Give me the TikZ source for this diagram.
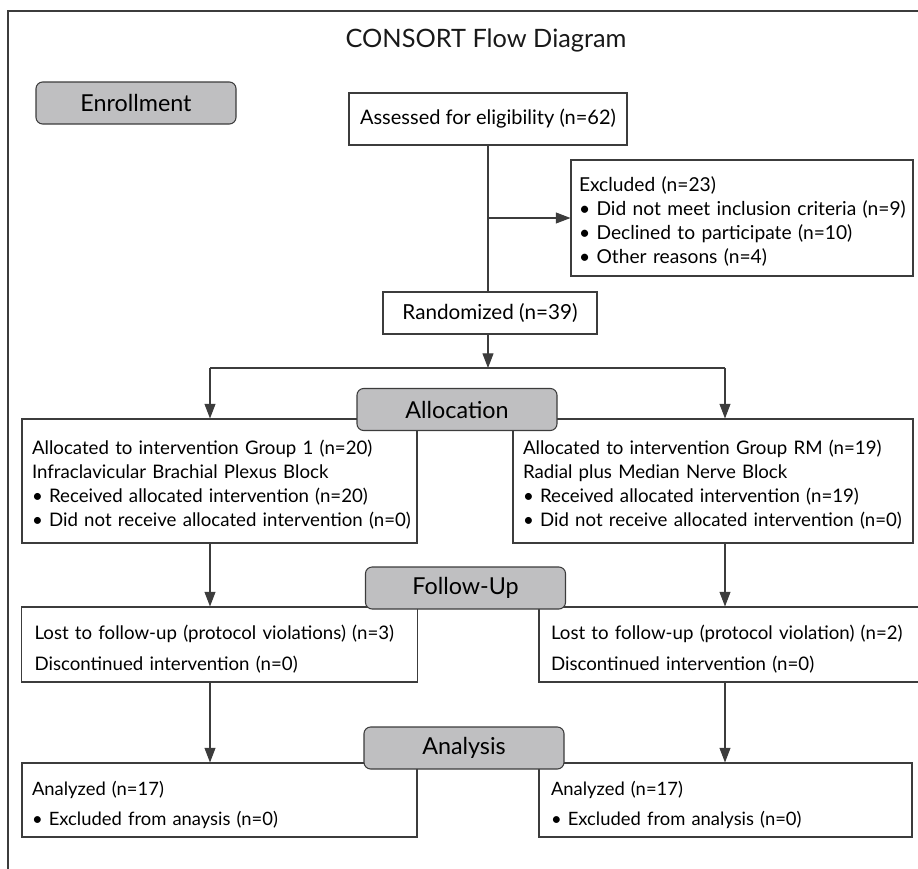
\documentclass[tikz,border=0pt]{standalone}
\usepackage{fontspec}
\setmainfont{Lato}
\usepackage{xcolor}
\definecolor{consortGray}{HTML}{BFBFC1}
\definecolor{consortLine}{HTML}{3C3C3C}
\usetikzlibrary{
  arrows.meta,
  positioning,
  calc
}
\tikzset{
  framebox/.style={draw=consortLine,line width=0.8pt},
  titletext/.style={font=\fontsize{19}{22}\selectfont,text=black!90},
  stagebox/.style={
    rectangle,rounded corners=5pt,
    draw=consortLine,fill=consortGray,line width=0.8pt,
    minimum width=150pt,minimum height=31.5pt,
    text centered,font=\fontsize{17.5}{20}\selectfont
  },
  flowbox/.style={
    rectangle,draw=consortLine,fill=white,line width=0.8pt,
    text centered,font=\fontsize{15}{18}\selectfont
  },
  listbox/.style={
    rectangle,draw=consortLine,fill=white,line width=0.8pt,
    text width=#1,inner xsep=7.5pt,
    align=left,font=\fontsize{14}{18.2}\selectfont,
    execute at begin node={\vspace*{-7pt}}
  },
  flowline/.style={-,draw=consortLine,line width=0.8pt},
  flowarr/.style={-{Triangle[width=8.25pt,length=11pt]},draw=consortLine,line width=0.8pt},
}

\begin{document}
\begin{tikzpicture}[x=0.75pt,y=-0.75pt]

\path[use as bounding box] (0,0) rectangle (918,868);
\clip (0,0) rectangle (918,868);

%% ── Frame and title ──────────────────────────────────────
\draw[framebox] (8,11) rectangle (940,890);
\node[titletext] (title) at (486,40) {CONSORT Flow Diagram};

%% ── Enrollment ───────────────────────────────────────────
\node[flowbox,minimum width=208.5pt,minimum height=39pt] (assess) at (488,119)
  {Assessed for eligibility (n=62)};
\node[listbox=244.5pt,minimum height=87pt,inner xsep=6pt,
      font=\fontsize{14.4}{18}\selectfont] (excl) at (742,218)
  {\begin{tabular}{@{}l@{}}
   Excluded (n=23)\\
   • Did not meet inclusion criteria (n=9)\\
   • Declined to participate (n=10)\\
   • Other reasons (n=4)
   \end{tabular}};
\node[flowbox,minimum width=160.5pt,minimum height=31.5pt,
      font=\fontsize{15.5}{18}\selectfont] (rand) at (490,313)
  {Randomized (n=39)};

%% ── Allocation ───────────────────────────────────────────
\node[listbox=281.25pt,minimum height=93pt] (allocL) at (219.5,481)
  {\begin{tabular}{@{}l@{}}
   Allocated to intervention Group 1 (n=20)\\
   Infraclavicular Brachial Plexus Block\\
   • Received allocated intervention (n=20)\\
   • Did not receive allocated intervention (n=0)
   \end{tabular}};
\node[listbox=285pt,minimum height=93pt,inner xsep=7.5pt] (allocR) at (713,481)
  {\begin{tabular}{@{}l@{}}
   Allocated to intervention Group RM (n=19)\\
   Radial plus Median Nerve Block\\
   • Received allocated intervention (n=19)\\
   • Did not receive allocated intervention (n=0)
   \end{tabular}};

%% ── Follow-Up ────────────────────────────────────────────
\node[listbox=277.5pt,minimum height=56.25pt,inner xsep=9.75pt,
      font=\fontsize{14}{23}\selectfont] (followL) at (219.5,644.5)
  {\begin{tabular}{@{}l@{}}
   Lost to follow-up (protocol violations) (n=3)\\
   Discontinued intervention (n=0)
   \end{tabular}};
\node[listbox=279pt,minimum height=56.25pt,inner xsep=9pt,
      font=\fontsize{14}{23}\selectfont] (followR) at (737,644.5)
  {\begin{tabular}{@{}l@{}}
   Lost to follow-up (protocol violation) (n=2)\\
   Discontinued intervention (n=0)
   \end{tabular}};

%% ── Analysis ─────────────────────────────────────────────
\node[listbox=281.25pt,minimum height=55.5pt,
      font=\fontsize{13.8}{22}\selectfont] (anaL) at (219.5,800)
  {\begin{tabular}{@{}l@{}}
   Analyzed (n=17)\\
   • Excluded from anaysis (n=0)
   \end{tabular}};
\node[listbox=261.75pt,minimum height=55.5pt,inner xsep=9pt,
      font=\fontsize{13.8}{22}\selectfont] (anaR) at (725.5,800)
  {\begin{tabular}{@{}l@{}}
   Analyzed (n=17)\\
   • Excluded from analysis (n=0)
   \end{tabular}};

%% ── Stage labels ─────────────────────────────────────────
\node[stagebox] (enroll) at (136,103) {Enrollment};
\node[stagebox] (allocation) at (457,409.5) {Allocation};
\node[stagebox] (followup) at (465.5,588) {Follow-Up};
\node[stagebox] (analysis) at (464,748) {Analysis};

%% ── Connectors ───────────────────────────────────────────
\coordinate (splitL) at (210,368);
\coordinate (splitR) at (725,368);

\draw[flowline] (assess.south) -- (assess.south |- rand.north);
\draw[flowarr] (assess.south |- excl.west) -- (excl.west);
\draw[flowarr] (assess.south |- rand.south) -- (assess.south |- splitL);
\draw[flowline] (splitL) -- (splitR);
\draw[flowarr] (splitL) -- (splitL |- allocL.north);
\draw[flowarr] (splitR) -- (splitR |- allocR.north);
\draw[flowarr] (splitL |- allocL.south) -- (splitL |- followL.north);
\draw[flowarr] (splitR |- allocR.south) -- (splitR |- followR.north);
\draw[flowarr] (splitL |- followL.south) -- (splitL |- anaL.north);
\draw[flowarr] (splitR |- followR.south) -- (splitR |- anaR.north);

\end{tikzpicture}
\end{document}
